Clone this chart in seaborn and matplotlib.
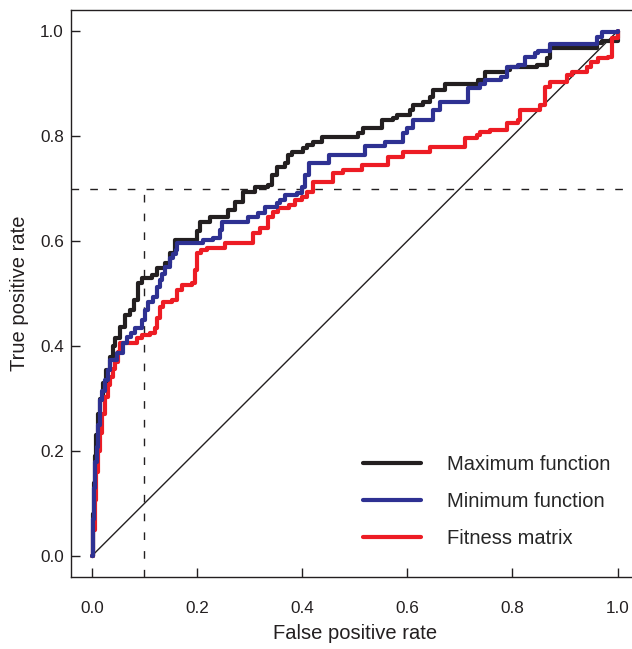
import matplotlib
matplotlib.use("Agg")
import matplotlib.pyplot as plt
import seaborn as sns
import pandas as pd

# ROC curves (corners of each step)
max_fpr = [0, 0.002, 0.004, 0.006, 0.009, 0.012, 0.016, 0.022, 0.028, 0.034, 0.04, 0.044,
           0.053, 0.063, 0.072, 0.08, 0.087, 0.095, 0.114, 0.125, 0.139, 0.148, 0.158,
           0.2, 0.205, 0.224, 0.259, 0.272, 0.287, 0.31, 0.335, 0.342, 0.352, 0.367, 0.373,
           0.38, 0.401, 0.409, 0.42, 0.437, 0.506, 0.515, 0.551, 0.572, 0.58, 0.605, 0.61,
           0.629, 0.643, 0.648, 0.671, 0.734, 0.747, 0.789, 0.795, 0.846, 0.865, 0.871,
           0.96, 0.97, 1.0]
max_tpr = [0, 0.08, 0.14, 0.19, 0.23, 0.27, 0.30, 0.33, 0.355, 0.38, 0.40, 0.415,
           0.436, 0.459, 0.469, 0.488, 0.52, 0.53, 0.535, 0.549, 0.558, 0.577, 0.602,
           0.619, 0.636, 0.646, 0.659, 0.674, 0.693, 0.703, 0.707, 0.726, 0.741, 0.749, 0.764,
           0.77, 0.777, 0.783, 0.789, 0.798, 0.806, 0.815, 0.83, 0.834, 0.84, 0.85, 0.859,
           0.865, 0.874, 0.888, 0.899, 0.907, 0.922, 0.926, 0.931, 0.935, 0.949, 0.968,
           0.977, 0.981, 1.0]

min_fpr = [0, 0.002, 0.004, 0.007, 0.01, 0.012, 0.015, 0.02, 0.025, 0.03, 0.034, 0.048,
           0.059, 0.067, 0.075, 0.082, 0.095, 0.101, 0.106, 0.116, 0.124, 0.129, 0.134,
           0.139, 0.148, 0.155, 0.16, 0.163, 0.211, 0.23, 0.243, 0.247, 0.297, 0.316, 0.329,
           0.352, 0.357, 0.367, 0.39, 0.399, 0.405, 0.414, 0.452, 0.519, 0.557, 0.591, 0.599,
           0.61, 0.648, 0.662, 0.715, 0.738, 0.747, 0.779, 0.789, 0.81, 0.823, 0.842, 0.848,
           0.871, 0.96, 0.971, 1.0]
min_tpr = [0, 0.07, 0.13, 0.18, 0.208, 0.25, 0.297, 0.315, 0.335, 0.355, 0.373, 0.387,
           0.406, 0.417, 0.425, 0.434, 0.45, 0.469, 0.484, 0.493, 0.512, 0.526, 0.538,
           0.55, 0.568, 0.575, 0.583, 0.596, 0.602, 0.606, 0.621, 0.636, 0.646, 0.653, 0.665,
           0.672, 0.678, 0.688, 0.691, 0.703, 0.726, 0.749, 0.764, 0.781, 0.789, 0.806, 0.815,
           0.83, 0.85, 0.865, 0.891, 0.899, 0.907, 0.912, 0.931, 0.935, 0.95, 0.958, 0.962,
           0.975, 0.989, 0.998, 1.0]

fit_fpr = [0, 0.003, 0.006, 0.009, 0.012, 0.015, 0.02, 0.025, 0.03, 0.034, 0.04, 0.044,
           0.049, 0.053, 0.086, 0.095, 0.11, 0.12, 0.125, 0.129, 0.135, 0.152, 0.162, 0.171,
           0.19, 0.196, 0.2, 0.207, 0.219, 0.253, 0.306, 0.319, 0.335, 0.344, 0.354, 0.376,
           0.386, 0.399, 0.409, 0.42, 0.458, 0.477, 0.513, 0.563, 0.591, 0.643, 0.709, 0.732,
           0.738, 0.757, 0.789, 0.81, 0.814, 0.852, 0.861, 0.871, 0.903, 0.914, 0.941, 0.95,
           0.962, 0.981, 0.989, 0.99, 1.0]
fit_tpr = [0, 0.05, 0.107, 0.16, 0.2, 0.234, 0.27, 0.303, 0.325, 0.341, 0.356, 0.37,
           0.389, 0.406, 0.415, 0.421, 0.425, 0.434, 0.453, 0.474, 0.484, 0.488, 0.507, 0.516,
           0.52, 0.545, 0.577, 0.583, 0.587, 0.596, 0.615, 0.625, 0.646, 0.655, 0.663, 0.669,
           0.678, 0.684, 0.693, 0.712, 0.73, 0.735, 0.745, 0.76, 0.77, 0.779, 0.796, 0.802,
           0.808, 0.811, 0.825, 0.83, 0.85, 0.859, 0.893, 0.903, 0.916, 0.922, 0.931, 0.941,
           0.949, 0.951, 0.97, 0.987, 1.0]

labels = ["Maximum function", "Minimum function", "Fitness matrix"]
colors = ["#231f20", "#2e3192", "#ed1c24"]
ticks = [0.0, 0.2, 0.4, 0.6, 0.8, 1.0]
diag = [0, 1]
fpr_cut = 0.1
tpr_cut = 0.7

df = pd.concat([
    pd.DataFrame({"fpr": max_fpr, "tpr": max_tpr, "method": labels[0]}),
    pd.DataFrame({"fpr": min_fpr, "tpr": min_tpr, "method": labels[1]}),
    pd.DataFrame({"fpr": fit_fpr, "tpr": fit_tpr, "method": labels[2]}),
])

sns.set_style("ticks")
plt.rcParams["font.family"] = ["Liberation Sans", "DejaVu Sans"]

fig = plt.figure(figsize=(6.32, 6.49), dpi=100)
ax = fig.add_axes([0.1119, 0.1109, 0.8987, 0.8737])

ax.plot(diag, diag, color="#231f20", lw=1.0)
ax.axhline(tpr_cut, color="#231f20", lw=1.0, dashes=(5.5, 8))
ax.vlines(fpr_cut, -0.04, tpr_cut, color="#231f20", lw=1.0, linestyles=(0, (5.5, 8)))

sns.lineplot(data=df, x="fpr", y="tpr", hue="method", palette=colors,
             sort=False, estimator=None, drawstyle="steps-post", lw=3, ax=ax)

# blue curve sits on top of the others, as in the original
for line in ax.get_lines():
    if line.get_color() == colors[1]:
        line.set_zorder(3)

ax.set_xlim(-0.04, 1.04)
ax.set_ylim(-0.04, 1.04)
ax.set_xticks(ticks)
ax.set_yticks(ticks)
ax.set_xticklabels([f"{t:.1f}" for t in ticks])
ax.set_yticklabels([f"{t:.1f}" for t in ticks])
ax.tick_params(axis="both", direction="in", length=6.5, width=1, labelsize=12.3, colors="#231f20")
ax.tick_params(axis="x", pad=17)
ax.tick_params(axis="y", pad=5)
for s in ax.spines.values():
    s.set_linewidth(1.0)
    s.set_color("#231f20")

ax.set_xlabel("False positive rate", fontsize=14.5, labelpad=6, color="#231f20")
ax.set_ylabel("True positive rate", fontsize=14.5, labelpad=8, color="#231f20")

handles, labs = ax.get_legend_handles_labels()
ax.legend(handles, labs, loc="upper left", bbox_to_anchor=(0.514, 0.215), frameon=False,
          fontsize=14.5, handlelength=2.9, handletextpad=1.3, labelspacing=0.9,
          borderpad=0, borderaxespad=0)

fig.savefig("out.png", dpi=100)
